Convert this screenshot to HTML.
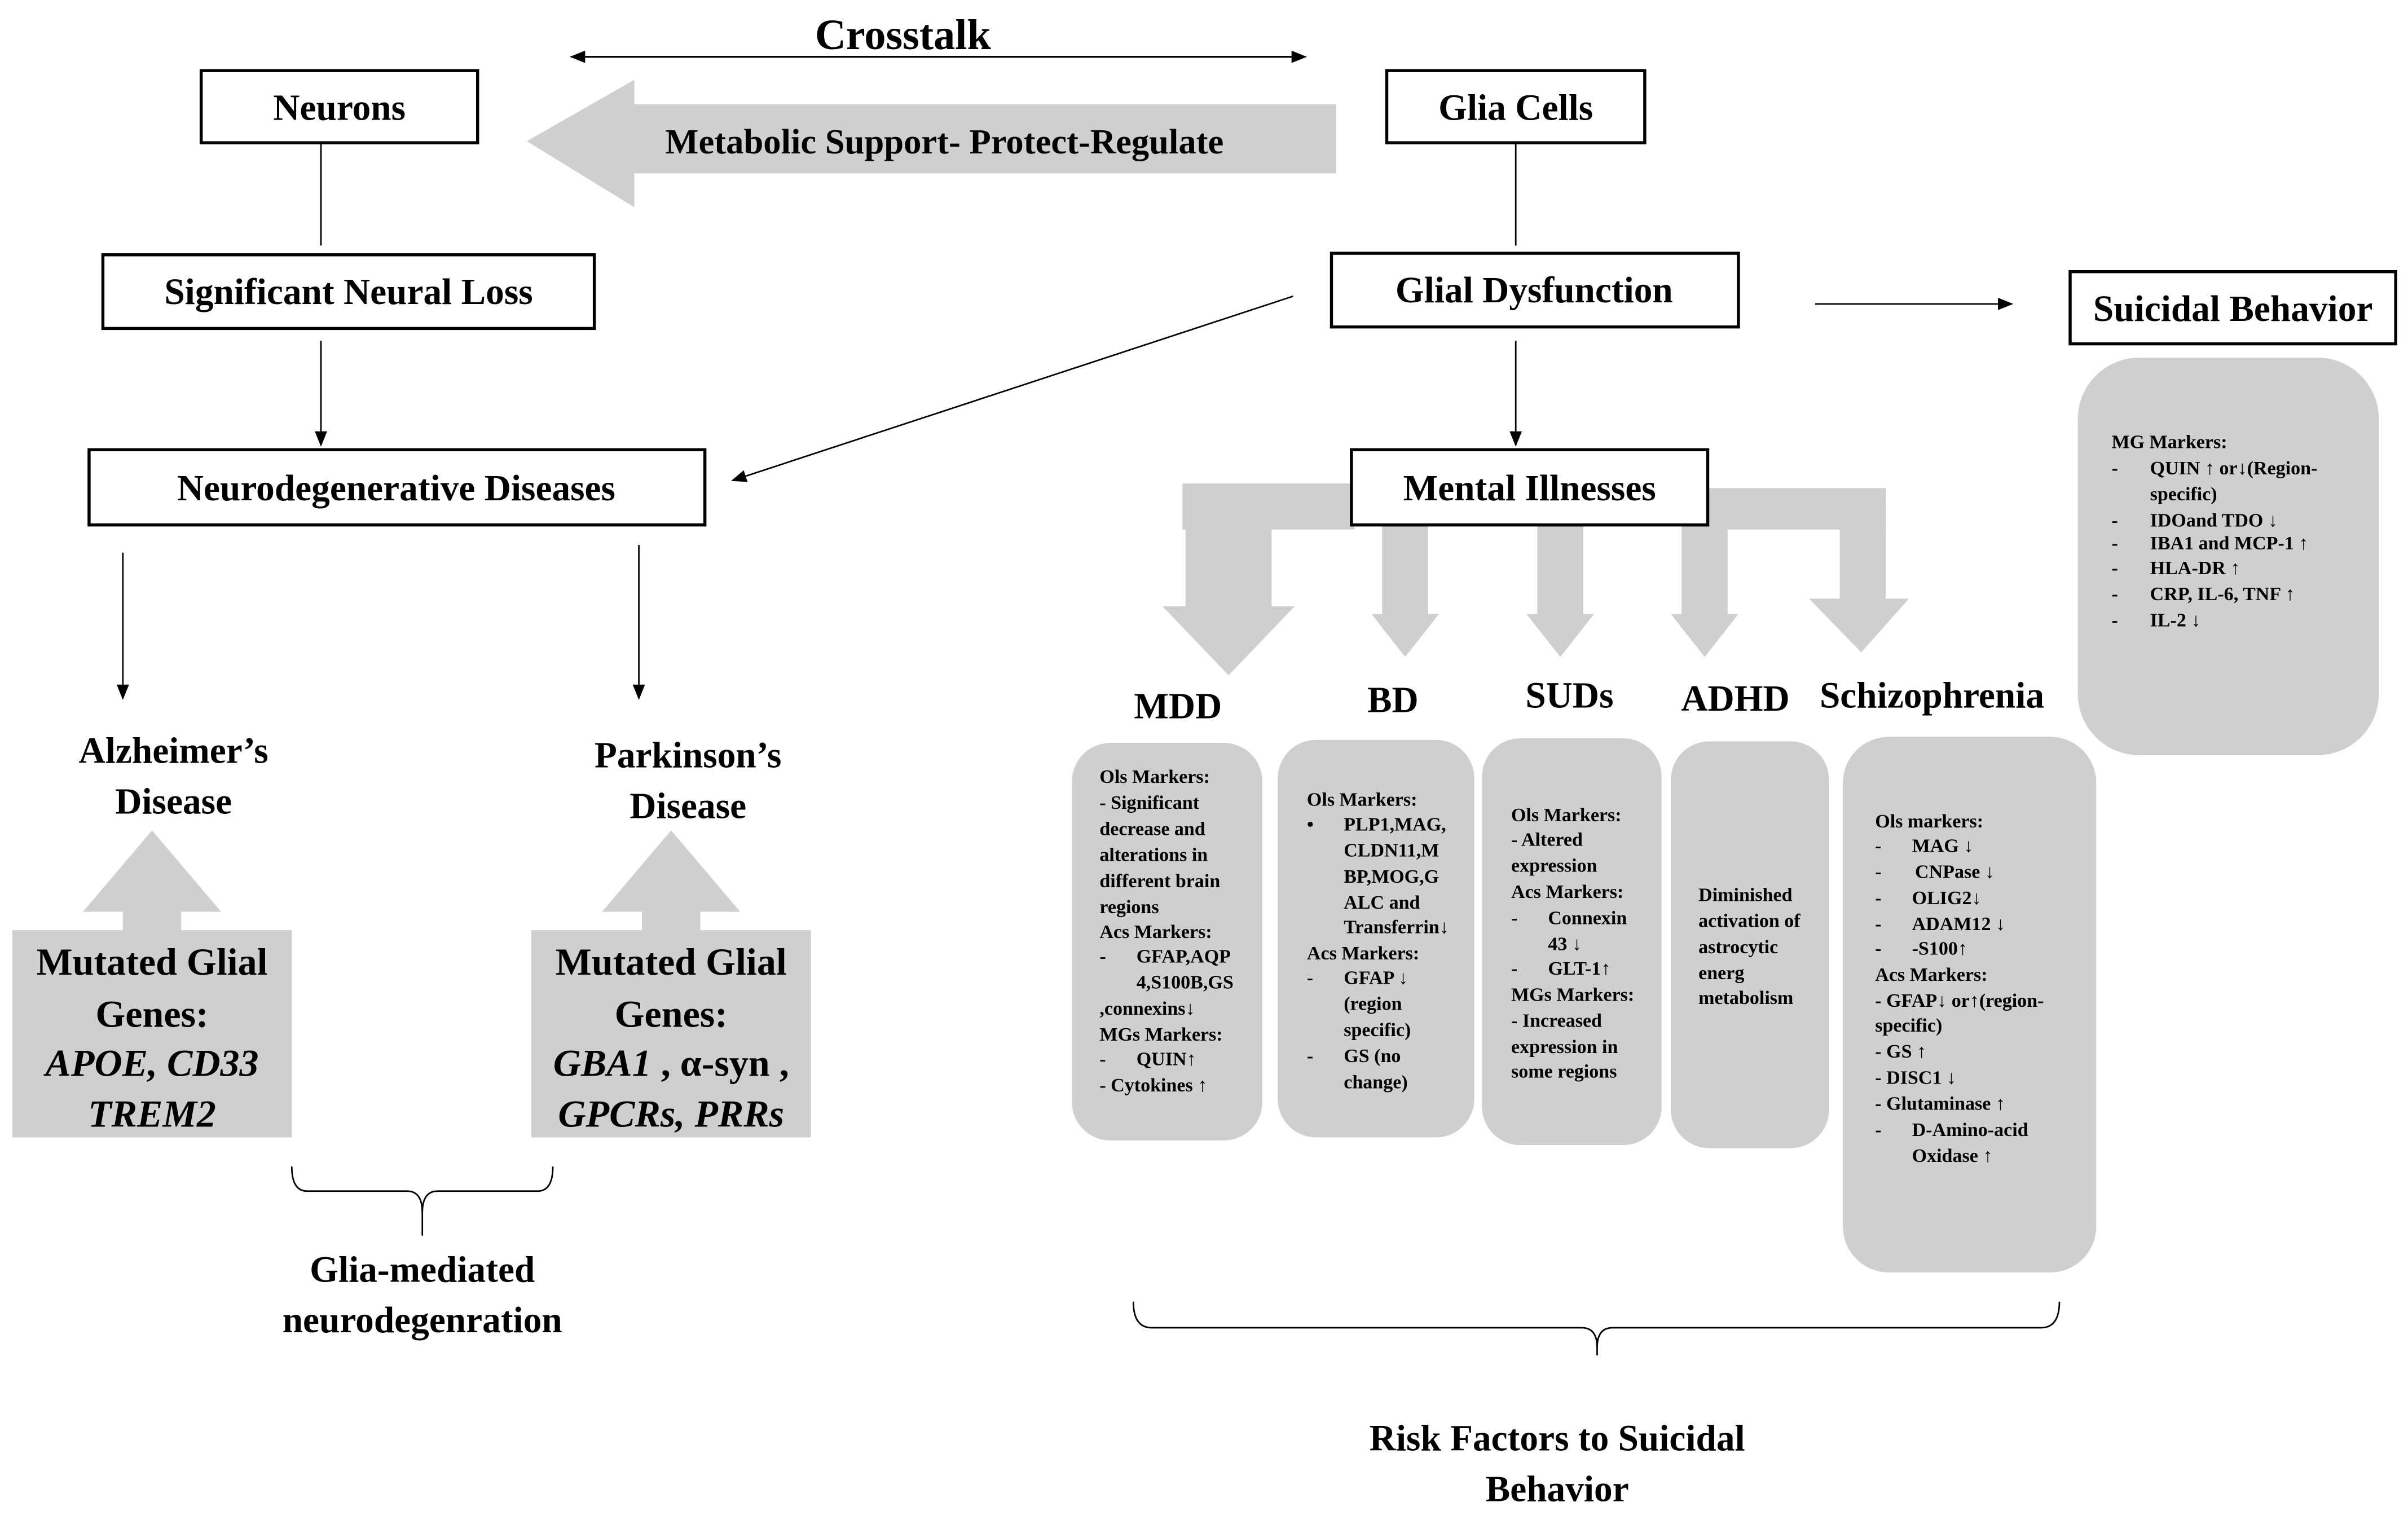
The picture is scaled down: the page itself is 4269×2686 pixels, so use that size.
<!DOCTYPE html>
<html><head><meta charset="utf-8">
<style>
html,body{margin:0;padding:0;background:#fff;}
svg{display:block;}
text{font-family:"Liberation Serif",serif;font-weight:bold;fill:#000;}
.b{font-size:24px;text-anchor:middle;}
.s{font-size:12.5px;}
</style></head>
<body>
<svg width="4269" height="2686" viewBox="0 0 1568 987" preserveAspectRatio="none" xmlns="http://www.w3.org/2000/svg">
<defs>
<marker id="a" markerWidth="10" markerHeight="10" refX="9" refY="5" orient="auto" markerUnits="userSpaceOnUse"><path d="M0,1 L10,5 L0,9 z" fill="#000"/></marker>
<marker id="as" markerWidth="10" markerHeight="10" refX="1" refY="5" orient="auto" markerUnits="userSpaceOnUse"><path d="M10,1 L0,5 L10,9 z" fill="#000"/></marker>
</defs>
<rect width="1568" height="987" fill="#fff"/>

<text x="588" y="32" class="b" style="font-size:28px">Crosstalk</text>
<line x1="372" y1="37" x2="850" y2="37" stroke="#000" stroke-width="1.2" marker-end="url(#a)" marker-start="url(#as)"/>

<polygon points="343,92 413,52 413,68 870,68 870,113 413,113 413,135" fill="#cfcfcf"/>
<text x="615" y="100" class="b" style="font-size:23px">Metabolic Support- Protect-Regulate</text>

<rect x="131" y="46" width="180" height="47" fill="#fff" stroke="#000" stroke-width="2"/>
<text x="221" y="78" class="b">Neurons</text>
<rect x="903" y="46" width="168" height="47" fill="#fff" stroke="#000" stroke-width="2"/>
<text x="987" y="78" class="b">Glia Cells</text>

<line x1="209" y1="93" x2="209" y2="160" stroke="#000" stroke-width="1"/>
<line x1="987" y1="93" x2="987" y2="160" stroke="#000" stroke-width="1"/>

<rect x="67" y="166" width="320" height="48" fill="#fff" stroke="#000" stroke-width="2"/>
<text x="227" y="198" class="b">Significant Neural Loss</text>
<rect x="867" y="165" width="265" height="48" fill="#fff" stroke="#000" stroke-width="2"/>
<text x="999" y="197" class="b">Glial Dysfunction</text>

<line x1="209" y1="222" x2="209" y2="290" stroke="#000" stroke-width="1" marker-end="url(#a)"/>
<line x1="842" y1="193" x2="477" y2="313" stroke="#000" stroke-width="1" marker-end="url(#a)"/>
<line x1="987" y1="222" x2="987" y2="290" stroke="#000" stroke-width="1" marker-end="url(#a)"/>
<line x1="1182" y1="198" x2="1310" y2="198" stroke="#000" stroke-width="1" marker-end="url(#a)"/>

<rect x="58" y="293" width="401" height="49" fill="#fff" stroke="#000" stroke-width="2"/>
<text x="258" y="326" class="b">Neurodegenerative Diseases</text>

<!-- mental illness block arrows -->
<g fill="#cfcfcf">
<rect x="770" y="315" width="112" height="30"/>
<rect x="1110" y="318" width="118" height="27"/>
<polygon points="772,340 828,340 828,395 843,395 800,440 757,395 772,395"/>
<polygon points="900,342 930,342 930,400 937,400 915,428 893,400 900,400"/>
<polygon points="1001,342 1031,342 1031,400 1038,400 1016,428 994,400 1001,400"/>
<polygon points="1095,330 1125,330 1125,400 1132,400 1110,428 1088,400 1095,400"/>
<polygon points="1198,330 1228,330 1228,390 1243,390 1212,425 1178,390 1198,390"/>
</g>
<rect x="880" y="293" width="232" height="49" fill="#fff" stroke="#000" stroke-width="2"/>
<text x="996" y="326" class="b">Mental Illnesses</text>

<rect x="1348" y="177" width="212" height="47" fill="#fff" stroke="#000" stroke-width="2"/>
<text x="1454" y="209" class="b">Suicidal Behavior</text>

<rect x="1353" y="233" width="196" height="259" rx="40" fill="#cfcfcf"/>
<g class="s" font-size="12">
<text x="1375" y="292" class="s">MG Markers:</text>
<text x="1375" y="309" class="s">-</text><text x="1400" y="309" class="s">QUIN ↑ or↓(Region-</text>
<text x="1400" y="326" class="s">specific)</text>
<text x="1375" y="343" class="s">-</text><text x="1400" y="343" class="s">IDOand TDO ↓</text>
<text x="1375" y="358" class="s">-</text><text x="1400" y="358" class="s">IBA1 and MCP-1 ↑</text>
<text x="1375" y="374" class="s">-</text><text x="1400" y="374" class="s">HLA-DR ↑</text>
<text x="1375" y="391" class="s">-</text><text x="1400" y="391" class="s">CRP, IL-6, TNF ↑</text>
<text x="1375" y="408" class="s">-</text><text x="1400" y="408" class="s">IL-2 ↓</text>
</g>

<line x1="80" y1="360" x2="80" y2="455" stroke="#000" stroke-width="1" marker-end="url(#a)"/>
<line x1="416" y1="355" x2="416" y2="455" stroke="#000" stroke-width="1" marker-end="url(#a)"/>

<text x="113" y="497" class="b">Alzheimer’s</text>
<text x="113" y="530" class="b">Disease</text>
<text x="448" y="500" class="b">Parkinson’s</text>
<text x="448" y="533" class="b">Disease</text>

<g fill="#cfcfcf">
<polygon points="99,541 144,594 118,594 118,606 80,606 80,594 54,594"/>
<rect x="8" y="606" width="182" height="135"/>
<polygon points="437,541 482,594 456,594 456,606 418,606 418,594 392,594"/>
<rect x="346" y="606" width="182" height="135"/>
</g>
<g class="b" style="font-size:25px">
<text x="99" y="635" class="b" style="font-size:25px">Mutated Glial</text>
<text x="99" y="669" class="b" style="font-size:25px">Genes:</text>
<text x="99" y="701" class="b" style="font-size:25px;font-style:italic">APOE, CD33</text>
<text x="99" y="734" class="b" style="font-size:25px;font-style:italic">TREM2</text>
<text x="437" y="635" class="b" style="font-size:25px">Mutated Glial</text>
<text x="437" y="669" class="b" style="font-size:25px">Genes:</text>
<text x="437" y="701" class="b" style="font-size:25px"><tspan font-style="italic">GBA1</tspan> , α-syn ,</text>
<text x="437" y="734" class="b" style="font-size:25px;font-style:italic">GPCRs, PRRs</text>
</g>

<path d="M190,760 Q190,776 200,776 L265,776 Q275,776 275,790 Q275,776 285,776 L350,776 Q360,776 360,760" fill="none" stroke="#000" stroke-width="1"/>
<line x1="275" y1="786" x2="275" y2="805" stroke="#000" stroke-width="1"/>
<text x="275" y="835" class="b">Glia-mediated</text>
<text x="275" y="868" class="b">neurodegenration</text>

<text x="767" y="468" class="b">MDD</text>
<text x="907" y="464" class="b">BD</text>
<text x="1022" y="461" class="b">SUDs</text>
<text x="1130" y="463" class="b">ADHD</text>
<text x="1258" y="461" class="b">Schizophrenia</text>

<rect x="698" y="484" width="124" height="259" rx="25" fill="#cfcfcf"/>
<rect x="832" y="482" width="128" height="259" rx="25" fill="#cfcfcf"/>
<rect x="965" y="481" width="117" height="265" rx="25" fill="#cfcfcf"/>
<rect x="1088" y="483" width="103" height="265" rx="25" fill="#cfcfcf"/>
<rect x="1200" y="480" width="165" height="349" rx="30" fill="#cfcfcf"/>

<g>
<text x="716" y="510" class="s">Ols Markers:</text>
<text x="716" y="527" class="s">- Significant</text>
<text x="716" y="544" class="s">decrease and</text>
<text x="716" y="561" class="s">alterations  in</text>
<text x="716" y="578" class="s">different brain</text>
<text x="716" y="595" class="s">regions</text>
<text x="716" y="611" class="s">Acs Markers:</text>
<text x="716" y="627" class="s">-</text><text x="740" y="627" class="s">GFAP,AQP</text>
<text x="740" y="644" class="s">4,S100B,GS</text>
<text x="716" y="661" class="s">,connexins↓</text>
<text x="716" y="678" class="s">MGs Markers:</text>
<text x="716" y="694" class="s">-</text><text x="740" y="694" class="s">QUIN↑</text>
<text x="716" y="711" class="s">- Cytokines   ↑</text>

<text x="851" y="525" class="s">Ols Markers:</text>
<text x="851" y="541" class="s">•</text><text x="875" y="541" class="s">PLP1,MAG,</text>
<text x="875" y="558" class="s">CLDN11,M</text>
<text x="875" y="575" class="s">BP,MOG,G</text>
<text x="875" y="592" class="s">ALC and</text>
<text x="875" y="608" class="s">Transferrin↓</text>
<text x="851" y="625" class="s">Acs Markers:</text>
<text x="851" y="641" class="s">-</text><text x="875" y="641" class="s">GFAP ↓</text>
<text x="875" y="658" class="s">(region</text>
<text x="875" y="675" class="s">specific)</text>
<text x="851" y="692" class="s">-</text><text x="875" y="692" class="s">GS (no</text>
<text x="875" y="709" class="s">change)</text>

<text x="984" y="535" class="s">Ols Markers:</text>
<text x="984" y="551" class="s">- Altered</text>
<text x="984" y="568" class="s">expression</text>
<text x="984" y="585" class="s">Acs Markers:</text>
<text x="984" y="602" class="s">-</text><text x="1008" y="602" class="s">Connexin</text>
<text x="1008" y="619" class="s">43 ↓</text>
<text x="984" y="635" class="s">-</text><text x="1008" y="635" class="s">GLT-1↑</text>
<text x="984" y="652" class="s">MGs Markers:</text>
<text x="984" y="669" class="s">- Increased</text>
<text x="984" y="686" class="s">expression in</text>
<text x="984" y="702" class="s">some regions</text>

<text x="1106" y="587" class="s">Diminished</text>
<text x="1106" y="604" class="s">activation of</text>
<text x="1106" y="621" class="s">astrocytic</text>
<text x="1106" y="638" class="s">energ</text>
<text x="1106" y="654" class="s">metabolism</text>

<text x="1221" y="539" class="s">Ols markers:</text>
<text x="1221" y="555" class="s">-</text><text x="1245" y="555" class="s">MAG ↓</text>
<text x="1221" y="572" class="s">-</text><text x="1247" y="572" class="s">CNPase   ↓</text>
<text x="1221" y="589" class="s">-</text><text x="1245" y="589" class="s">OLIG2↓</text>
<text x="1221" y="606" class="s">-</text><text x="1245" y="606" class="s">ADAM12  ↓</text>
<text x="1221" y="622" class="s">-</text><text x="1245" y="622" class="s">-S100↑</text>
<text x="1221" y="639" class="s">Acs Markers:</text>
<text x="1221" y="656" class="s">- GFAP↓ or↑(region-</text>
<text x="1221" y="672" class="s">specific)</text>
<text x="1221" y="689" class="s">- GS ↑</text>
<text x="1221" y="706" class="s">- DISC1 ↓</text>
<text x="1221" y="723" class="s">- Glutaminase  ↑</text>
<text x="1221" y="740" class="s">-</text><text x="1245" y="740" class="s">D-Amino-acid</text>
<text x="1245" y="757" class="s">Oxidase ↑</text>
</g>

<path d="M738,848 Q738,865 750,865 L1030,865 Q1040,865 1040,878 Q1040,865 1050,865 L1329,865 Q1341,865 1341,848" fill="none" stroke="#000" stroke-width="1"/>
<line x1="1040" y1="872" x2="1040" y2="883" stroke="#000" stroke-width="1"/>
<text x="1014" y="945" class="b">Risk Factors to Suicidal</text>
<text x="1014" y="978" class="b">Behavior</text>
</svg>
</body></html>
